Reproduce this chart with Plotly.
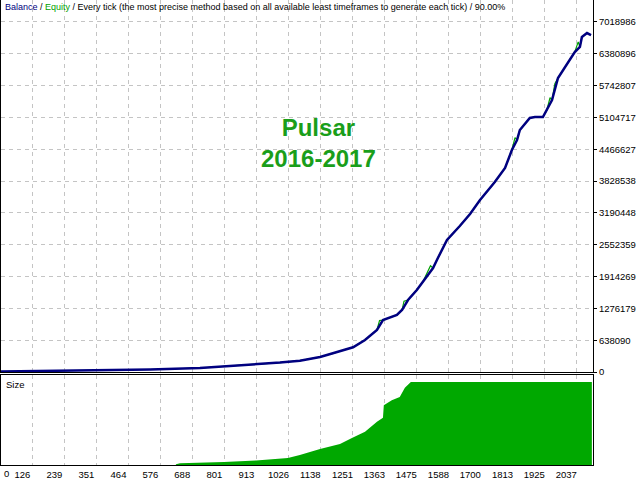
import plotly.graph_objects as go

# ---- data ----
balance_trades = [16, 364, 540, 715, 891, 996, 1066, 1137, 1182, 1253, 1295, 1337, 1358, 1407, 1425,
                  1446, 1477, 1498, 1534, 1551, 1583, 1628, 1664, 1699, 1723, 1751, 1787, 1811, 1829,
                  1839, 1874, 1892, 1920, 1934, 1952, 1973, 2004, 2032, 2050, 2057, 2075, 2089]
balance_values = [10000, 30000, 50000, 80000, 140000, 190000, 227000, 301000, 375000, 495000, 642000,
                  842000, 1043000, 1143000, 1243000, 1444000, 1644000, 1805000, 2086000, 2286000,
                  2647000, 2928000, 3169000, 3449000, 3610000, 3810000, 4091000, 4452000, 4653000,
                  4853000, 5094000, 5114000, 5114000, 5254000, 5455000, 5896000, 6157000, 6417000,
                  6518000, 6718000, 6798000, 6758000]

equity_trades = [16, 364, 540, 715, 891, 996, 1066, 1137, 1182, 1253, 1295, 1337, 1346, 1358, 1407, 1425,
                 1432, 1446, 1477, 1498, 1525, 1534, 1551, 1583, 1628, 1664, 1699, 1723, 1751, 1787, 1811,
                 1822, 1829, 1839, 1874, 1892, 1920, 1934, 1945, 1952, 1962, 1973, 2004, 2032, 2044, 2050,
                 2057, 2075, 2089]
equity_values = [10000, 30000, 50000, 80000, 140000, 190000, 227000, 301000, 375000, 495000, 642000,
                 842000, 1030000, 1043000, 1143000, 1243000, 1420000, 1444000, 1644000, 1805000, 2130000,
                 2086000, 2286000, 2647000, 2928000, 3169000, 3449000, 3610000, 3810000, 4091000, 4452000,
                 4700000, 4653000, 4853000, 5094000, 5114000, 5114000, 5254000, 5500000, 5455000, 5780000,
                 5896000, 6157000, 6417000, 6620000, 6518000, 6718000, 6798000, 6758000]

size_trades = [16, 630, 631, 645, 799, 912, 1024, 1066, 1137, 1207, 1249, 1295, 1337, 1358, 1361, 1389,
               1417, 1435, 1456, 2092]
size_values = [0, 0, 1, 2, 3.6, 5.4, 8.4, 12, 19.3, 25.3, 32.5, 40, 52, 57, 72, 78, 82, 93, 100, 100]

y_tickvals = [0, 638090, 1276179, 1914269, 2552359, 3190448, 3828538, 4466627, 5104717,
              5742807, 6380896, 7018986]
y_ticktext = ["0", "638090", "1276179", "1914269", "2552359", "3190448", "3828538", "4466627",
              "5104717", "5742807", "6380896", "7018986"]
x_tickvals = [126, 239, 351, 464, 576, 688, 801, 913, 1026, 1138, 1251, 1363, 1475, 1588,
              1700, 1813, 1925, 2037]
x_ticktext = [str(v) for v in x_tickvals]
x_first_label = "0"

title_text = ('<span style="color:#000080">Balance</span> / '
              '<span style="color:#00a000">Equity</span> / Every tick (the most precise method '
              'based on all available least timeframes to generate each tick) / 90.00%')
chart_label = "Pulsar<br>2016-2017"

# ---- figure ----
FONT = "Liberation Sans"
GRID = "#c4c4c4"
X_RANGE = [16, 2096]

fig = go.Figure()
fig.add_trace(go.Scatter(x=size_trades, y=size_values, mode="lines", fill="tozeroy",
                         line=dict(width=0, color="#00a800"), fillcolor="#00a800",
                         xaxis="x2", yaxis="y2", showlegend=False))
fig.add_trace(go.Scatter(x=equity_trades, y=equity_values, mode="lines",
                         line=dict(width=1.2, color="#00a000"), showlegend=False))
fig.add_trace(go.Scatter(x=balance_trades, y=balance_values, mode="lines",
                         line=dict(width=2.5, color="#000080"), showlegend=False))

axis_common = dict(showline=True, linecolor="black", linewidth=1, mirror=True, zeroline=False,
                   showgrid=True, gridcolor=GRID, griddash="4px,4px", gridwidth=1)

fig.update_layout(
    width=640, height=480,
    margin=dict(l=1, r=47, t=0, b=15),
    paper_bgcolor="white", plot_bgcolor="white",
    font=dict(family=FONT, size=9, color="black"),
    xaxis=dict(domain=[0, 1], anchor="y", range=X_RANGE, tickvals=x_tickvals,
               showticklabels=False, ticks="", **axis_common),
    yaxis=dict(domain=[0.2, 1], anchor="x", range=[0, 7460000], side="right",
               tickvals=y_tickvals, ticktext=y_ticktext, ticks="outside", ticklen=3,
               tickcolor="black", tickfont=dict(family=FONT, size=9.5), **axis_common),
    xaxis2=dict(domain=[0, 1], anchor="y2", range=X_RANGE, tickvals=x_tickvals,
                ticktext=x_ticktext, ticks="", ticklabelshift=-10, ticklabelstandoff=1,
                tickfont=dict(family=FONT, size=9.5), **axis_common),
    yaxis2=dict(domain=[0, 0.1925], anchor="x2", range=[0, 107.8], showticklabels=False,
                showline=True, linecolor="black", linewidth=1, mirror=True, showgrid=False,
                zeroline=False),
    annotations=[
        dict(text=title_text, xref="paper", yref="paper", x=0, y=1, xanchor="left",
             yanchor="top", xshift=2, yshift=0, showarrow=False,
             font=dict(family=FONT, size=9, color="black")),
        dict(text=chart_label, xref="paper", yref="paper", x=0.537, y=0.692,
             xanchor="center", yanchor="middle", showarrow=False,
             font=dict(family=FONT, size=24, color="#1a9e1a", weight="bold")),
        dict(text="Size", xref="paper", yref="paper", x=0, y=0.1925, xanchor="left",
             yanchor="top", xshift=3, yshift=-2, showarrow=False,
             font=dict(family=FONT, size=9.5, color="black")),
        dict(text=x_first_label, xref="paper", yref="paper", x=0, y=0, xanchor="left",
             yanchor="top", xshift=1, yshift=-1, showarrow=False,
             font=dict(family=FONT, size=9.5, color="black")),
    ],
)

fig.write_html("out.html", config={"displayModeBar": False},
               post_script="document.body.style.margin='0';")
